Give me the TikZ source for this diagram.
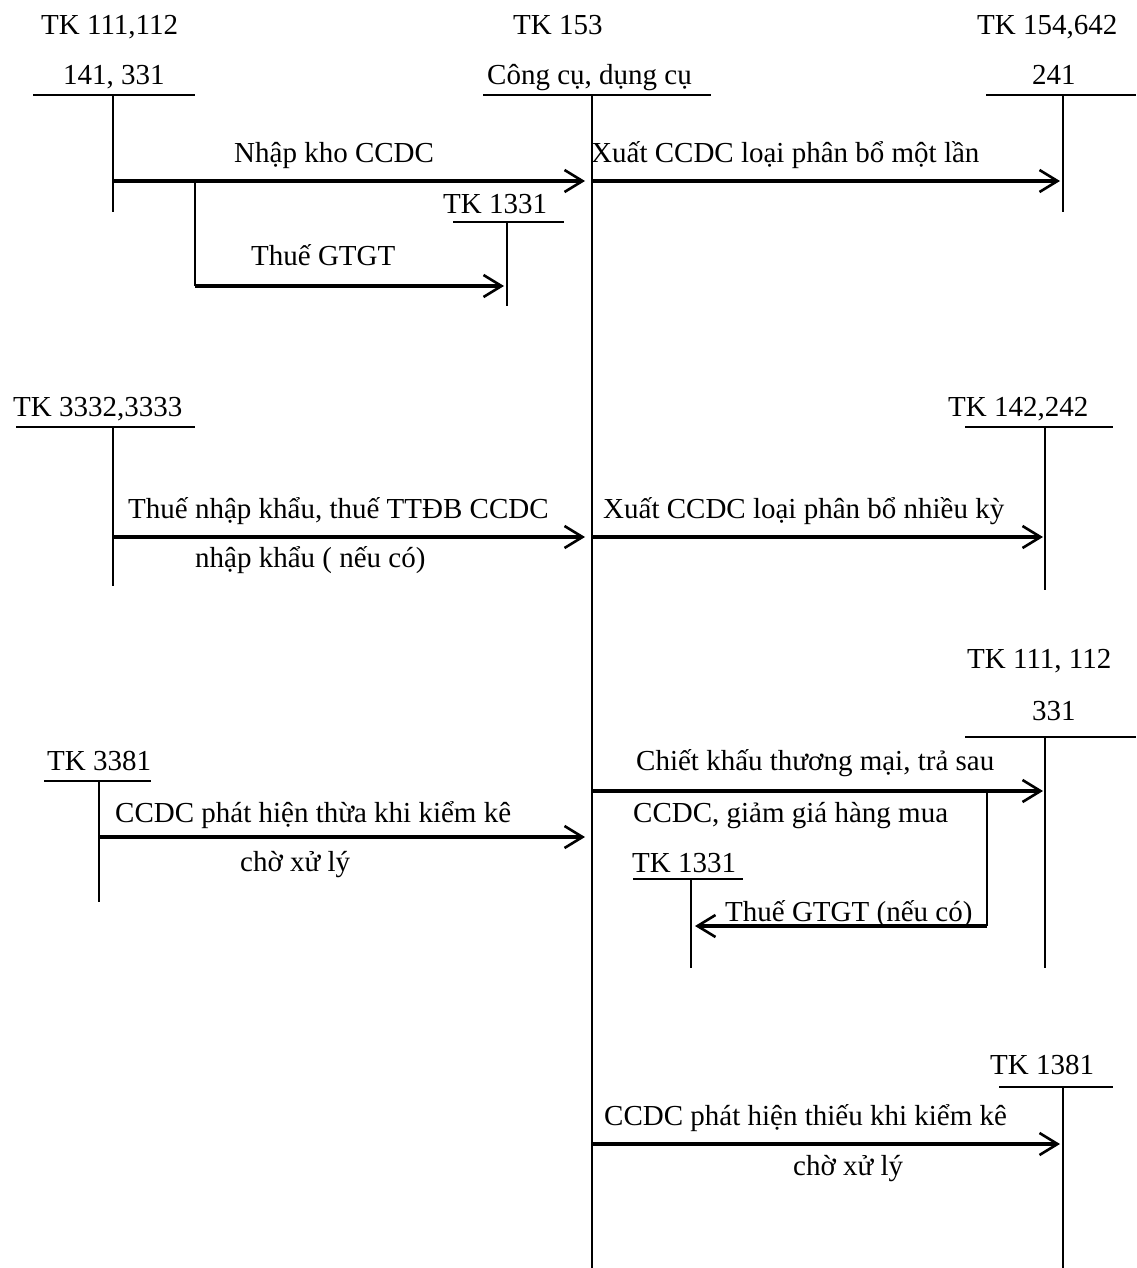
\documentclass[tikz,border=0pt]{standalone}
\usepackage{fontspec}
\setmainfont{Liberation Serif}
\usetikzlibrary{arrows.meta}
\begin{document}
\begin{tikzpicture}[x=1pt,y=-1pt,
  acct/.style={line width=1.6pt},
  flow/.style={line width=3.2pt,-{Straight Barb[length=18pt,width=22pt,line width=2.6pt]}},
  branch/.style={line width=1.6pt},
  txt/.style={anchor=base west,inner sep=0pt,font=\fontsize{29}{34}\selectfont}]
\useasboundingbox (0,0) rectangle (1136,1268);

% ---- account axes (top of the vertical stroke of each T-account)
\coordinate (A111)  at (113,95);
\coordinate (A153)  at (592,95);
\coordinate (A154)  at (1063,95);
\coordinate (A1331) at (507,222);
\coordinate (A3332) at (113,427);
\coordinate (A142)  at (1045,427);
\coordinate (A111b) at (1045,737);
\coordinate (A3381) at (99,781);
\coordinate (A1331b) at (691,879);
\coordinate (A1381) at (1063,1087);

% ---- rows of the entries
\coordinate (r1) at (0,181);
\coordinate (r2) at (0,286);
\coordinate (r3) at (0,537);
\coordinate (r4) at (0,791);
\coordinate (r5) at (0,837);
\coordinate (r6) at (0,926);
\coordinate (r7) at (0,1144);
\coordinate (b1) at (195,181);
\coordinate (b2) at (987,791);

% ---- T-accounts
\draw[acct] (33,95) -- (195,95)   (A111) -- (113,212);
\draw[acct] (483,95) -- (711,95)  (A153) -- (592,1268);
\draw[acct] (986,95) -- (1136,95) (A154) -- (1063,212);
\draw[acct] (453,222) -- (564,222) (A1331) -- (507,306);
\draw[acct] (16,427) -- (195,427) (A3332) -- (113,586);
\draw[acct] (965,427) -- (1113,427) (A142) -- (1045,590);
\draw[acct] (965,737) -- (1136,737) (A111b) -- (1045,968);
\draw[acct] (44,781) -- (151,781) (A3381) -- (99,902);
\draw[acct] (633,879) -- (743,879) (A1331b) -- (691,968);
\draw[acct] (999,1087) -- (1113,1087) (A1381) -- (1063,1268);

% ---- account titles
\node[txt] (n111)  at (41,35)   {TK 111,112};
\node[txt] (n141)  at (63,85)   {141, 331};
\node[txt] (n153)  at (513,35)  {TK 153};
\node[txt] (nccdc) at (487,85)  {Công cụ, dụng cụ};
\node[txt] (n154)  at (977,35)  {TK 154,642};
\node[txt] (n241)  at (1032,85) {241};
\node[txt] (n1331) at (443,213) {TK 1331};
\node[txt] (n3332) at (13,416)  {TK 3332,3333};
\node[txt] (n142)  at (948,416) {TK 142,242};
\node[txt] (n111b) at (967,668) {TK 111, 112};
\node[txt] (n331)  at (1032,720) {331};
\node[txt] (n3381) at (47,770)  {TK 3381};
\node[txt] (n1331b) at (632,872) {TK 1331};
\node[txt] (n1381) at (990,1074) {TK 1381};

% ---- entry labels
\node[txt] (l1)  at (234,163) {Nhập kho CCDC};
\node[txt] (l2)  at (591,163) {Xuất CCDC loại phân bổ một lần};
\node[txt] (l3)  at (251,265) {Thuế GTGT};
\node[txt] (l4a) at (128,518) {Thuế nhập khẩu, thuế TTĐB CCDC};
\node[txt] (l4b) at (195,567) {nhập khẩu ( nếu có)};
\node[txt] (l5)  at (603,518) {Xuất CCDC loại phân bổ nhiều kỳ};
\node[txt] (l6a) at (636,770) {Chiết khấu thương mại, trả sau};
\node[txt] (l6b) at (633,822) {CCDC, giảm giá hàng mua};
\node[txt] (l6c) at (725,921) {Thuế GTGT (nếu có)};
\node[txt] (l7a) at (115,822) {CCDC phát hiện thừa khi kiểm kê};
\node[txt] (l7b) at (240,871) {chờ xử lý};
\node[txt] (l8a) at (604,1125) {CCDC phát hiện thiếu khi kiểm kê};
\node[txt] (l8b) at (793,1175) {chờ xử lý};

% ---- entries
\draw[flow,shorten >=7pt] (A111 |- r1) -- (A153 |- r1);
\draw[flow,shorten >=3pt] (A153 |- r1) -- (A154 |- r1);
\draw[branch] (b1) -- (b1 |- r2);
\draw[flow,shorten >=3pt] (b1 |- r2) -- (A1331 |- r2);
\draw[flow,shorten >=7pt] (A3332 |- r3) -- (A153 |- r3);
\draw[flow,shorten >=2pt] (A153 |- r3) -- (A142 |- r3);
\draw[flow,shorten >=2pt] (A153 |- r4) -- (A111b |- r4);
\draw[branch] (b2) -- (b2 |- r6);
\draw[flow,shorten >=4pt] (b2 |- r6) -- (A1331b |- r6);
\draw[flow,shorten >=7pt] (A3381 |- r5) -- (A153 |- r5);
\draw[flow,shorten >=3pt] (A153 |- r7) -- (A1381 |- r7);
\end{tikzpicture}
\end{document}
